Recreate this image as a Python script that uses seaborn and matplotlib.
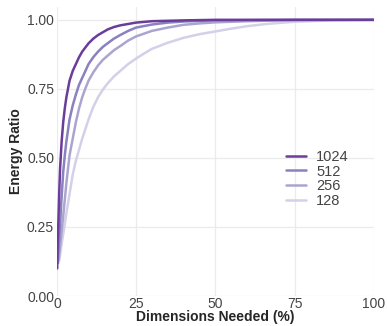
import pandas as pd
import matplotlib
matplotlib.use("Agg")
import matplotlib.pyplot as plt
import seaborn as sns

# values (x = dimensions needed in %, y = energy ratio)
x_1024 = [0.1, 0.25, 0.5, 0.75, 1, 1.5, 2, 2.5, 3, 4, 5, 6, 7, 8, 10, 11.5, 13, 16,
          18, 20, 25, 30, 40, 50, 75, 100]
y_1024 = [0.10, 0.19, 0.28, 0.38, 0.46, 0.56, 0.63, 0.68, 0.72, 0.78, 0.815, 0.84,
          0.865, 0.885, 0.915, 0.932, 0.945, 0.965, 0.974, 0.98, 0.99, 0.995, 0.998,
          1.0, 1.0, 1.0]

x_512 = [0.2, 0.5, 1, 1.5, 2, 2.5, 3, 4, 5, 6, 7, 8, 9, 10, 11.5, 13, 14.5, 16, 18,
         20, 22.5, 25, 30, 35, 40, 50, 75, 100]
y_512 = [0.12, 0.17, 0.26, 0.36, 0.45, 0.51, 0.56, 0.64, 0.69, 0.73, 0.765, 0.79,
         0.815, 0.84, 0.865, 0.885, 0.902, 0.915, 0.932, 0.945, 0.96, 0.972, 0.983,
         0.99, 0.994, 0.998, 1.0, 1.0]

x_256 = [0.4, 1, 1.5, 2, 2.5, 3, 3.5, 4, 5, 6, 7, 8, 9, 10, 11.5, 13, 14.5, 16, 18,
         20, 22.5, 25, 30, 35, 40, 45, 50, 60, 75, 100]
y_256 = [0.12, 0.18, 0.235, 0.29, 0.35, 0.41, 0.46, 0.51, 0.57, 0.63, 0.68, 0.72,
         0.752, 0.78, 0.81, 0.835, 0.855, 0.87, 0.89, 0.905, 0.925, 0.94, 0.96,
         0.972, 0.982, 0.987, 0.991, 0.995, 0.999, 1.0]

x_128 = [0.8, 1.5, 2.5, 3, 4, 5, 6, 7, 8, 9, 10, 11.5, 13, 14.5, 16, 18, 20, 22.5,
         25, 27.5, 30, 35, 40, 45, 50, 55, 60, 67, 75, 87, 100]
y_128 = [0.13, 0.19, 0.26, 0.30, 0.37, 0.44, 0.49, 0.53, 0.57, 0.605, 0.64, 0.685,
         0.72, 0.747, 0.77, 0.795, 0.815, 0.84, 0.86, 0.878, 0.895, 0.917, 0.935,
         0.948, 0.958, 0.968, 0.977, 0.986, 0.993, 0.998, 1.0]

dims = ["1024", "512", "256", "128"]
colors = ["#6a3d9a", "#8b80c0", "#aaa5d0", "#d3d0e8"]

frames = []
for d, xs, ys in zip(dims, [x_1024, x_512, x_256, x_128], [y_1024, y_512, y_256, y_128]):
    frames.append(pd.DataFrame({"Dimensions": xs, "Ratio": ys, "Dim": d}))
df = pd.concat(frames, ignore_index=True)

sns.set_style("whitegrid")
plt.rcParams["font.family"] = ["Liberation Sans", "DejaVu Sans"]

fig = plt.figure(figsize=(3.87, 3.26), dpi=100)
ax = fig.add_axes([0.147, 0.092, 0.819, 0.887])

# draw lightest first so 1024 sits on top
for d, c in reversed(list(zip(dims, colors))):
    sns.lineplot(data=df[df["Dim"] == d], x="Dimensions", y="Ratio", color=c,
                 linewidth=1.8, label=d, ax=ax)

ax.set_xlim(0, 100)
ax.set_ylim(0, 1.047)
ax.set_xticks([0, 25, 50, 75, 100])
ax.set_yticks([0, 0.25, 0.5, 0.75, 1.0])
ax.set_yticklabels(["0.00", "0.25", "0.50", "0.75", "1.00"])
ax.grid(True, color="#ebebeb", linewidth=0.9)
for s in ax.spines.values():
    s.set_visible(False)
ax.tick_params(length=0, labelsize=10, labelcolor="#444444", pad=2)
ax.tick_params(axis="x", pad=1)

ax.set_xlabel("Dimensions Needed (%)", fontsize=10, fontweight="bold", labelpad=-1)
ax.set_ylabel("Energy Ratio", fontsize=10, fontweight="bold", labelpad=3)

handles, labels = ax.get_legend_handles_labels()
order = [labels.index(d) for d in dims]
ax.legend([handles[i] for i in order], dims, loc="center left",
          bbox_to_anchor=(0.722, 0.405), frameon=False, fontsize=10.5,
          handlelength=1.4, handletextpad=0.7, labelspacing=0.05,
          borderpad=0, borderaxespad=0, labelcolor="#444444")

fig.savefig("out.png", dpi=100)
